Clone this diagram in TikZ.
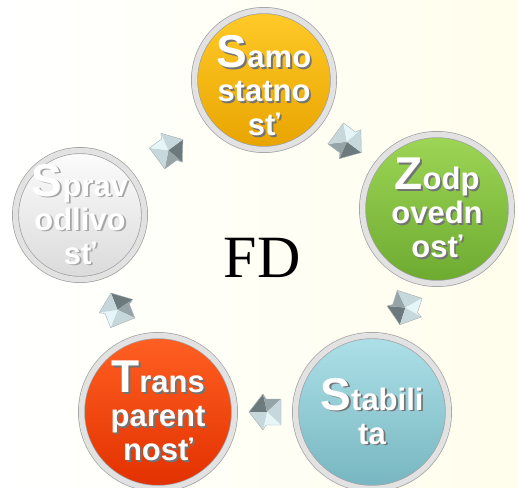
\documentclass[tikz,border=0pt]{standalone}
\usepackage{fontspec}
\setmainfont{Liberation Serif}
\setsansfont{Liberation Sans}
\usetikzlibrary{shadows}

\definecolor{rimgray}{RGB}{160,160,160}
\definecolor{rimlight}{RGB}{226,226,226}
\definecolor{facetdark}{RGB}{108,122,126}
\definecolor{facetmid}{RGB}{150,164,168}
\definecolor{facetlight}{RGB}{198,216,220}
\definecolor{facetpale}{RGB}{230,246,248}
\definecolor{bgcream}{RGB}{255,254,236}
\definecolor{yellowtop}{RGB}{255,202,40}
\definecolor{yellowmid}{RGB}{248,184,0}
\definecolor{yellowbot}{RGB}{232,164,0}
\definecolor{greentop}{RGB}{158,214,86}
\definecolor{greenmid}{RGB}{136,198,66}
\definecolor{greenbot}{RGB}{108,170,48}
\definecolor{cyantop}{RGB}{174,224,232}
\definecolor{cyanmid}{RGB}{152,210,220}
\definecolor{cyanbot}{RGB}{118,182,192}
\definecolor{redtop}{RGB}{255,96,34}
\definecolor{redmid}{RGB}{255,64,0}
\definecolor{redbot}{RGB}{226,48,0}
\definecolor{whitetop}{RGB}{252,252,252}
\definecolor{whitemid}{RGB}{242,242,242}
\definecolor{whitebot}{RGB}{218,218,218}

% white text with a small shadow
\newcommand{\shtext}[2][black!55]{%
  \leavevmode\rlap{\kern1.8pt\raisebox{-1.8pt}{\color{#1}#2}}#2}
\newcommand{\capletter}[1]{{\fontsize{46}{34}\selectfont #1}}

\begin{document}
\begin{tikzpicture}[
    x = 1pt, y = -1pt,
    button/.style = {
      circle,
      inner sep = -20pt,
      top color = #1top,
      middle color = #1mid,
      bottom color = #1bot,
      draw = rimgray,
      double = rimlight,
      double distance = 5.5pt,
      line width = .7pt,
      drop shadow = {shadow xshift = 2pt, shadow yshift = -3pt, opacity = .25},
      text = white,
      align = center,
      font = \sffamily\bfseries\fontsize{31}{34}\selectfont
    },
    facet/.pic = {
      \fill[facetdark]  (-2,0) -- (16,0) -- (2,18) -- cycle;
      \fill[facetmid]   (-2,0) -- (2,18) -- (-1,13) -- (-16,13) -- cycle;
      \fill[facetlight] (-2,0) -- (-16,13) -- (-16,-13) -- cycle;
      \fill[facetpale]  (-2,0) -- (-16,-13) -- (-1,-13) -- (2,-18) -- cycle;
      \fill[facetlight] (-2,0) -- (2,-18) -- (16,0) -- cycle;
      \draw[facetdark!60, line width = .4pt]
        (16,0) -- (2,18) -- (-1,13) -- (-16,13) -- (-16,-13)
        -- (-1,-13) -- (2,-18) -- cycle;
    }
  ]

  % background
  \useasboundingbox (0,0) rectangle (518,487);
  \shade[left color = white, right color = bgcream] (0,0) rectangle (518,487);

  % The five buttons
  \node[button = yellow, minimum size = 139pt] (samo) at (264,80)
    {\rule{0pt}{46pt}\shtext{\capletter{S}amo}\\ \shtext{statno}\\ \shtext{sť}};
  \node[button = green, minimum size = 149pt] (zodp) at (437,209)
    {\shtext{\capletter{Z}odp}\\ \shtext{ovedn}\\ \shtext{osť}};
  \node[button = cyan, minimum size = 153pt] (stab) at (372,412)
    {\shtext{\capletter{S}tabili}\\ \shtext{ta}};
  \node[button = red, minimum size = 153pt] (trans) at (158,412)
    {\shtext{\capletter{T}rans}\\ \shtext{parent}\\ \shtext{nosť}};
  \node[button = white, minimum size = 129pt] (sprav) at (80,215)
    {\shtext[black!35]{\capletter{S}prav}\\ \shtext[black!35]{odlivo}\\ \shtext[black!35]{sť}};

  % The centre label
  \node (fd) at (262,258) {\fontsize{60}{60}\selectfont FD};

  % The arrows between the buttons
  \path (samo)  -- pic[pos = .5, sloped, allow upside down]{facet} (zodp);
  \path (zodp)  -- pic[pos = .5, sloped, allow upside down]{facet} (stab);
  \path (stab)  -- pic[pos = .5, sloped, allow upside down]{facet} (trans);
  \path (trans) -- pic[pos = .5, sloped, allow upside down]{facet} (sprav);
  \path (sprav) -- pic[pos = .5, sloped, allow upside down]{facet} (samo);
\end{tikzpicture}
\end{document}
